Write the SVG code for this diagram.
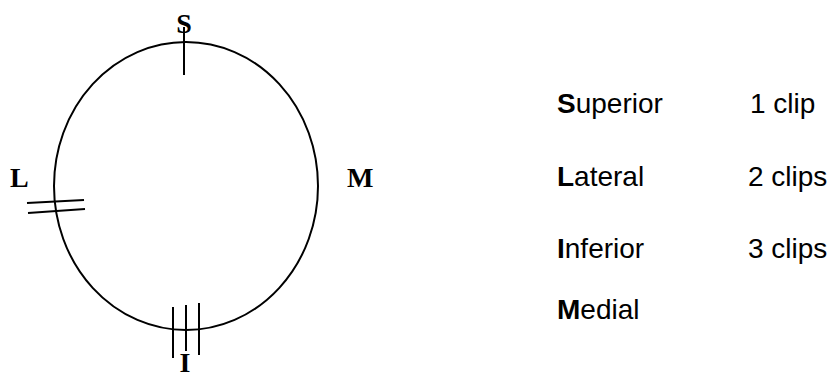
<svg xmlns="http://www.w3.org/2000/svg" width="833" height="378" viewBox="0 0 833 378">
<style>
.ln{stroke:#000;stroke-width:2;fill:none}
.ser{font-family:"Liberation Serif","Times New Roman",serif;font-weight:bold;font-size:28px;fill:#000}
.san{font-family:"Liberation Sans",Arial,sans-serif;font-size:28px;fill:#000}
.b{font-weight:bold}
</style>
<rect width="833" height="378" fill="#fff"/>
<g id="ring">
<ellipse class="ln" cx="186" cy="186" rx="132" ry="144"/>
</g>
<g id="marks">
<line class="ln" x1="184" y1="27" x2="184" y2="75"/>
<line class="ln" x1="27" y1="203" x2="84" y2="200"/>
<line class="ln" x1="28" y1="213" x2="85" y2="209"/>
<line class="ln" x1="173" y1="307" x2="173" y2="358"/>
<line class="ln" x1="186" y1="305" x2="186" y2="351"/>
<line class="ln" x1="199" y1="303" x2="199" y2="355"/>
</g>
<g id="labels">
<text class="ser" x="184" y="33" text-anchor="middle">S</text>
<text class="ser" x="10" y="187">L</text>
<text class="ser" x="347" y="187">M</text>
<text class="ser" x="185" y="372" text-anchor="middle">I</text>
</g>
<g id="legend">
<text class="san" x="557" y="113"><tspan class="b">S</tspan>uperior</text>
<text class="san" x="557" y="186"><tspan class="b">L</tspan>ateral</text>
<text class="san" x="557" y="258"><tspan class="b">I</tspan>nferior</text>
<text class="san" x="557" y="319"><tspan class="b">M</tspan>edial</text>
<text class="san" x="750" y="113">1 clip</text>
<text class="san" x="748" y="186">2 clips</text>
<text class="san" x="748" y="258">3 clips</text>
</g>
</svg>
